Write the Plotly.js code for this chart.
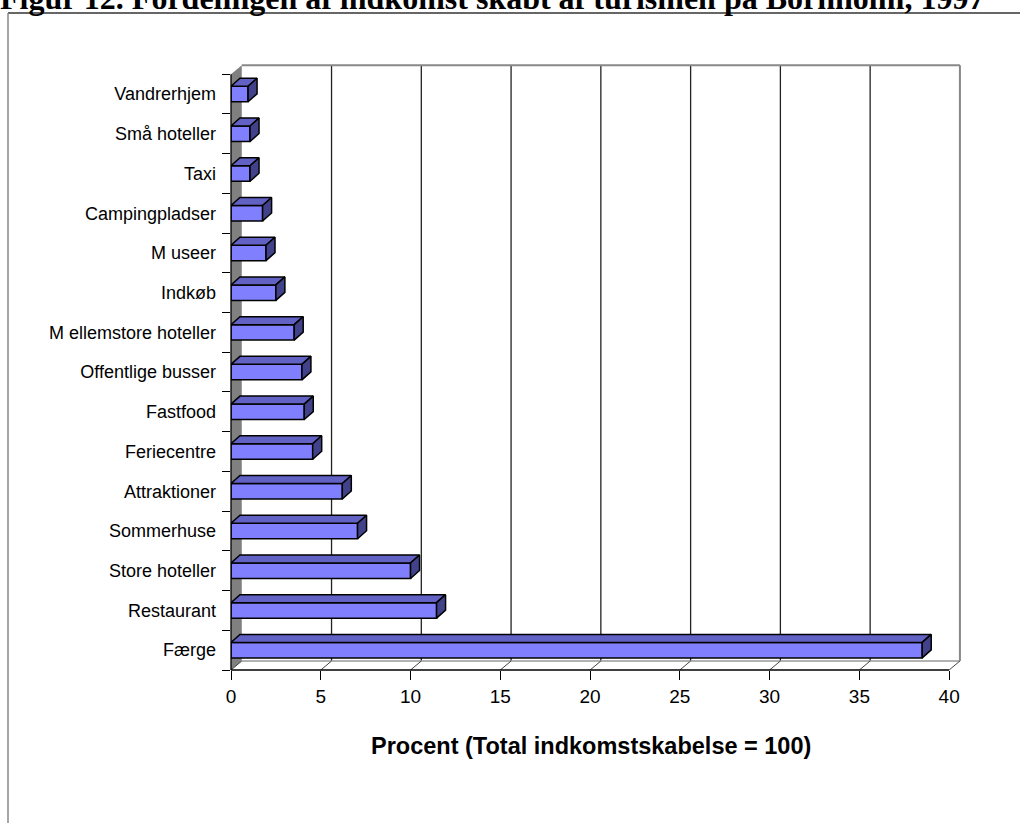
<!DOCTYPE html>
<html><head><meta charset="utf-8">
<script src="https://cdn.plot.ly/plotly-3.0.1.min.js"></script>
<style>html,body{margin:0;padding:0;background:#fff}#chart{width:1020px;height:823px}</style>
</head><body><div id="chart"></div>
<script>
// ---- data ----
const categories = ["Færge","Restaurant","Store hoteller","Sommerhuse","Attraktioner","Feriecentre","Fastfood","Offentlige busser","M ellemstore hoteller","Indkøb","M useer","Campingpladser","Taxi","Små hoteller","Vandrerhjem"];
const values = [38.5, 11.45, 10.0, 7.05, 6.2, 4.55, 4.08, 3.95, 3.52, 2.5, 1.95, 1.76, 1.06, 1.06, 0.95];
const xTicks = [0, 5, 10, 15, 20, 25, 30, 35, 40];
const chartTitle = "Figur 12. Fordelingen af indkomst skabt af turismen på Bornholm, 1997";
const xTitle = "Procent (Total indkomstskabelse = 100)";

// ---- geometry / style ----
const W = 1020, H = 823;
const M = {l: 231, r: 59, t: 64, b: 153};
const pw = W - M.l - M.r, ph = H - M.t - M.b;
const xHi = 40.66;
const yLo = -0.5, nCat = categories.length;
const wallTopPx = 9;
const pxY_est = 39.72;
const yWallTop = (nCat - 0.5) + wallTopPx / pxY_est;
const yHi = yWallTop + 0.03;
const pxX = pw / xHi, pxY = ph / (yHi - yLo);
const barW = 0.39;
const bdx = 9 / pxX, bdy = 8 / pxY;     // bar depth
const wdx = 0.6, wdy = yWallTop - (nCat - 0.5); // wall depth
const xEnd = xTicks[xTicks.length - 1];
const px2x = p => (p - M.l) / pw;
const px2y = p => (H - M.b - p) / ph;

// 3D faces built from the values
const topF = {x: [], y: []}, sideF = {x: [], y: []};
values.forEach((v, i) => {
  const y0 = i - barW / 2, y1 = i + barW / 2;
  topF.x.push(0, v, v + bdx, bdx, 0, null);
  topF.y.push(y1, y1, y1 + bdy, y1 + bdy, y1, null);
  sideF.x.push(v, v, v + bdx, v + bdx, v, null);
  sideF.y.push(y0, y1, y1 + bdy, y0 + bdy, y0, null);
});

const traces = [
  {type: 'bar', orientation: 'h', y: categories, x: values, width: barW,
   marker: {color: '#8080FF', line: {color: '#000', width: 1.5}}, hoverinfo: 'x+y'},
  {type: 'scatter', mode: 'lines', x: topF.x, y: topF.y, yaxis: 'y2', fill: 'toself',
   fillcolor: '#6262C4', line: {color: '#000', width: 1.5}, connectgaps: false, hoverinfo: 'skip'},
  {type: 'scatter', mode: 'lines', x: sideF.x, y: sideF.y, yaxis: 'y2', fill: 'toself',
   fillcolor: '#42428A', line: {color: '#000', width: 1.5}, connectgaps: false, hoverinfo: 'skip'}
];

const shapes = [];
// grey left wall
shapes.push({type: 'path', xref: 'x', yref: 'y2', layer: 'below',
  path: `M0,${yLo} L0,${nCat - 0.5} L${wdx},${yWallTop} L${wdx},${yLo + wdy} Z`,
  fillcolor: '#808080', line: {width: 0}});
// back wall gridlines
xTicks.forEach(t => {
  if (t > 0 && t < xEnd) shapes.push({type: 'line', xref: 'x', yref: 'y2', layer: 'below',
    x0: t + wdx, x1: t + wdx, y0: yLo + wdy, y1: yWallTop, line: {color: '#222', width: 1.3}});
});
// back wall right + top border
shapes.push({type: 'line', xref: 'x', yref: 'y2', layer: 'below', x0: xEnd + wdx, x1: xEnd + wdx,
  y0: yLo + wdy, y1: yWallTop, line: {color: '#888', width: 2}});
shapes.push({type: 'line', xref: 'x', yref: 'y2', layer: 'below', x0: wdx, x1: xEnd + wdx,
  y0: yWallTop, y1: yWallTop, line: {color: '#888', width: 2}});
// floor
shapes.push({type: 'line', xref: 'x', yref: 'y2', layer: 'below', x0: wdx, x1: xEnd + wdx,
  y0: yLo + wdy, y1: yLo + wdy, line: {color: '#999', width: 1.5}});
xTicks.forEach(t => {
  shapes.push({type: 'line', xref: 'x', yref: 'y2', layer: 'below', x0: t, x1: t + wdx,
    y0: yLo, y1: yLo + wdy, line: {color: '#444', width: 1}});
});
// front axis lines
shapes.push({type: 'line', xref: 'paper', yref: 'y2', x0: 0, x1: 0, y0: yLo, y1: nCat - 0.5,
  line: {color: '#000', width: 1.3}});
shapes.push({type: 'line', xref: 'x', yref: 'paper', x0: 0, x1: xEnd, y0: 0, y1: 0,
  line: {color: '#000', width: 1.3}});
// outer chart frame
shapes.push({type: 'line', xref: 'paper', yref: 'paper', x0: px2x(8), x1: px2x(1030), y0: px2y(13), y1: px2y(13),
  line: {color: '#333', width: 1.3}});
shapes.push({type: 'line', xref: 'paper', yref: 'paper', x0: px2x(8), x1: px2x(8), y0: px2y(13), y1: px2y(840),
  line: {color: '#888', width: 1.5}});

const layout = {
  width: W, height: H, margin: M, showlegend: false,
  paper_bgcolor: '#fff', plot_bgcolor: '#fff',
  font: {family: 'Liberation Sans, Arial, sans-serif', color: '#000'},
  xaxis: {range: [0, xHi], tickvals: xTicks, ticks: 'outside', ticklen: 9, tickwidth: 1, tickcolor: '#000',
          showgrid: false, zeroline: false, showline: false, tickfont: {size: 19}, fixedrange: true},
  yaxis: {type: 'category', categoryorder: 'array', categoryarray: categories, range: [yLo, yHi],
          ticks: 'outside', tickson: 'boundaries', ticklen: 8, tickwidth: 1, tickcolor: '#000',
          ticklabelstandoff: 14,
          showgrid: false, zeroline: false, showline: false, tickfont: {size: 18}, fixedrange: true},
  yaxis2: {overlaying: 'y', range: [yLo, yHi], visible: false, fixedrange: true},
  shapes: shapes,
  annotations: [
    {text: '<b>' + chartTitle + '</b>', xref: 'paper', yref: 'paper', x: px2x(-2), y: px2y(18),
     xanchor: 'left', yanchor: 'bottom', showarrow: false,
     font: {family: 'Liberation Serif, Times New Roman, serif', size: 32, color: '#000'}},
    {text: '<b>' + xTitle + '</b>', xref: 'paper', yref: 'paper', x: px2x(591), y: px2y(746),
     xanchor: 'center', yanchor: 'middle', showarrow: false, font: {size: 23.5, color: '#000'}}
  ]
};

Plotly.newPlot('chart', traces, layout, {displayModeBar: false, staticPlot: true});
</script>
</body></html>
